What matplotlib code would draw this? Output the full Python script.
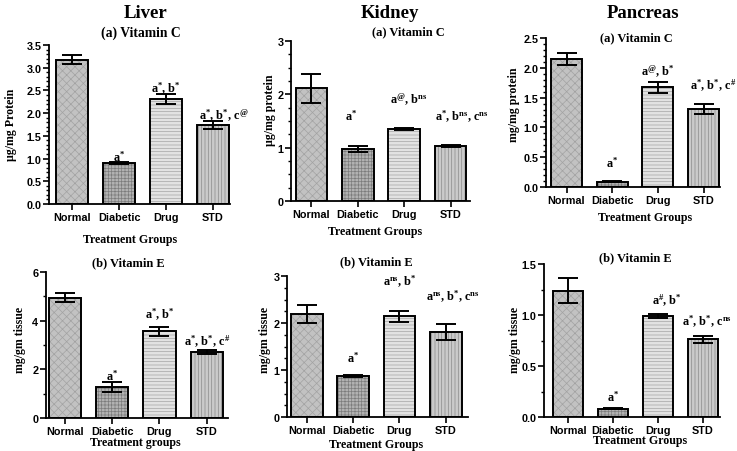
import numpy as np
import matplotlib
matplotlib.use("Agg")
import matplotlib.pyplot as plt

plt.rcParams['mathtext.fontset'] = 'custom'
plt.rcParams['mathtext.rm'] = 'Liberation Serif:bold'
plt.rcParams['mathtext.bf'] = 'Liberation Serif:bold'
plt.rcParams['mathtext.default'] = 'bf'
plt.rcParams['hatch.linewidth'] = 0.5

groups = ["Normal", "Diabetic", "Drug", "STD"]

# vitamin C (row a)
liver_c = [3.18, 0.90, 2.31, 1.74]
liver_c_err = [0.10, 0.02, 0.11, 0.08]
kidney_c = [2.11, 0.98, 1.35, 1.03]
kidney_c_err = [0.27, 0.06, 0.02, 0.02]
pancreas_c = [2.14, 0.09, 1.67, 1.31]
pancreas_c_err = [0.10, 0.01, 0.09, 0.09]

# vitamin E (row b)
liver_e = [4.95, 1.28, 3.57, 2.72]
liver_e_err = [0.18, 0.20, 0.18, 0.08]
kidney_e = [2.20, 0.87, 2.14, 1.80]
kidney_e_err = [0.19, 0.02, 0.12, 0.17]
pancreas_e = [1.24, 0.08, 0.99, 0.76]
pancreas_e_err = [0.12, 0.005, 0.02, 0.03]

# significance labels (Diabetic, Drug, STD)
liver_c_sig = [r"a$^{*}$", r"a$^{*}$, b$^{*}$", r"a$^{*}$, b$^{*}$, c$^{@}$"]
kidney_c_sig = [r"a$^{*}$", r"a$^{@}$, b$^{ns}$", r"a$^{*}$, b$^{ns}$, c$^{ns}$"]
pancreas_c_sig = [r"a$^{*}$", r"a$^{@}$, b$^{*}$", r"a$^{*}$, b$^{*}$, c$^{\#}$"]
liver_e_sig = [r"a$^{*}$", r"a$^{*}$, b$^{*}$", r"a$^{*}$, b$^{*}$, c$^{\#}$"]
kidney_e_sig = [r"a$^{*}$", r"a$^{ns}$, b$^{*}$", r"a$^{ns}$, b$^{*}$, c$^{ns}$"]
pancreas_e_sig = [r"a$^{*}$", r"a$^{\#}$, b$^{*}$", r"a$^{*}$, b$^{*}$, c$^{ns}$"]

W, H = 737, 452
fig = plt.figure(figsize=(W / 100, H / 100), dpi=100)

def fx(x):
    return x / W

def fy(y):
    return 1 - y / H

faces = ["#c2c2c2", "#b2b2b2", "#e2e2e2", "#cacaca"]
hatch_cols = ["#a2a2a2", "#7c7c7c", "#a4a4a4", "#8a8a8a"]
hatches = ["xxxx", "+++++", "-----", "|||||"]

serif = "Liberation Serif"
sans = "Liberation Sans"

panels = [
    # axes px (left, top, right, bottom), xlim, significance label positions (x, y)
    dict(v=liver_c, e=liver_c_err, s=liver_c_sig, ylim=3.5, maj=0.5, mnr=0.1,
         box=(49, 46, 230, 205), xl=(-0.49, 3.36), fmt="%.1f",
         sp=[(1, 1.06), (2, 2.55), (3.22, 1.96)],
         title="Liver", tpos=(146, 13), sub="(a) Vitamin C", spos=(141, 33), subfs=9.8,
         ylab="\u00b5g/mg Protein", ylpos=(11, 125), xlab="Treatment Groups", xlpos=(130, 240)),
    dict(v=kidney_c, e=kidney_c_err, s=kidney_c_sig, ylim=3, maj=1, mnr=0.25,
         box=(291, 42, 470, 202), xl=(-0.44, 3.42), fmt="%d",
         sp=[(0.85, 1.6), (2.1, 1.91), (3.25, 1.6)],
         title="Kidney", tpos=(390, 13), sub="(a) Vitamin C", spos=(408, 32), subfs=9,
         ylab="\u00b5g/mg protein", ylpos=(270, 110), xlab="Treatment Groups", xlpos=(375, 232)),
    dict(v=pancreas_c, e=pancreas_c_err, s=pancreas_c_sig, ylim=2.5, maj=0.5, mnr=0.1,
         box=(546, 39, 720, 188), xl=(-0.45, 3.36), fmt="%.1f",
         sp=[(1, 0.42), (2, 1.95), (3.2, 1.71)],
         title="Pancreas", tpos=(643, 13), sub="(a) Vitamin C", spos=(636, 38), subfs=9,
         ylab="mg/mg protein", ylpos=(514, 105), xlab="Treatment Groups", xlpos=(645, 218)),
    dict(v=liver_e, e=liver_e_err, s=liver_e_sig, ylim=6, maj=2, mnr=1,
         box=(46, 273, 228, 419), xl=(-0.40, 3.45), fmt="%d",
         sp=[(1, 1.77), (2, 4.27), (3, 3.16)],
         title=None, sub="(b) Vitamin E", spos=(128, 263), subfs=9,
         ylab="mg/gm tissue", ylpos=(20, 340), xlab="Treatment groups", xlpos=(135, 443)),
    dict(v=kidney_e, e=kidney_e_err, s=kidney_e_sig, ylim=3, maj=1, mnr=0.25,
         box=(287, 277, 468, 418), xl=(-0.43, 3.48), fmt="%d",
         sp=[(1, 1.28), (2, 2.89), (3.15, 2.57)],
         title=None, sub="(b) Vitamin E", spos=(376, 262), subfs=9,
         ylab="mg/gm tissue", ylpos=(265, 340), xlab="Treatment Groups", xlpos=(376, 445)),
    dict(v=pancreas_e, e=pancreas_e_err, s=pancreas_e_sig, ylim=1.5, maj=0.5, mnr=0.25,
         box=(544, 265, 720, 418), xl=(-0.53, 3.38), fmt="%.1f",
         sp=[(1, 0.2), (2.2, 1.15), (3.1, 0.94)],
         title=None, sub="(b) Vitamin E", spos=(635, 258), subfs=9,
         ylab="mg/gm tissue", ylpos=(515, 340), xlab="Treatment Groups", xlpos=(640, 441)),
]

x = np.arange(len(groups))
for p in panels:
    l, t, r, b = p["box"]
    ax = fig.add_axes([fx(l), fy(b), fx(r - l), (b - t) / H])
    for i in range(len(groups)):
        ax.bar(x[i], p["v"][i], width=0.68, color=faces[i], edgecolor=hatch_cols[i],
               hatch=hatches[i], linewidth=0, zorder=2)
        ax.bar(x[i], p["v"][i], width=0.68, fill=False, edgecolor="black",
               linewidth=1.4, zorder=3)
    ax.errorbar(x, p["v"], yerr=p["e"], fmt="none", ecolor="black", elinewidth=1.4,
                capsize=7, capthick=1.4, zorder=4)
    ax.set_xlim(*p["xl"])
    ax.set_ylim(0, p["ylim"])
    ax.set_yticks(np.arange(0, p["ylim"] + 1e-9, p["maj"]))
    ax.set_yticks(np.arange(0, p["ylim"] + 1e-9, p["mnr"]), minor=True)
    ax.yaxis.set_major_formatter(matplotlib.ticker.FormatStrFormatter(p["fmt"]))
    ax.set_xticks(x)
    ax.set_xticklabels(groups)
    for s in ["top", "right"]:
        ax.spines[s].set_visible(False)
    for s in ["left", "bottom"]:
        ax.spines[s].set_linewidth(1.3)
    ax.tick_params(axis="both", which="major", length=4, width=1.2, pad=1.5)
    ax.tick_params(axis="y", which="minor", length=2.5, width=1.0)
    for lab in ax.get_xticklabels() + ax.get_yticklabels():
        lab.set_fontfamily(sans)
        lab.set_fontweight("bold")
        lab.set_fontsize(7.8)
    for (sx, sy), txt in zip(p["sp"], p["s"]):
        ax.text(sx, sy, txt, ha="center", va="center", fontfamily=serif,
                fontweight="bold", fontsize=8.8, zorder=5)
    if p["title"]:
        fig.text(fx(p["tpos"][0]), fy(p["tpos"][1]), p["title"], ha="center", va="center",
                 fontfamily=serif, fontweight="bold", fontsize=13.5)
    fig.text(fx(p["spos"][0]), fy(p["spos"][1]), p["sub"], ha="center", va="center",
             fontfamily=serif, fontweight="bold", fontsize=p["subfs"])
    fig.text(fx(p["ylpos"][0]), fy(p["ylpos"][1]), p["ylab"], ha="center", va="center",
             rotation=90, fontfamily=serif, fontweight="bold", fontsize=8.6)
    fig.text(fx(p["xlpos"][0]), fy(p["xlpos"][1]), p["xlab"], ha="center", va="center",
             fontfamily=serif, fontweight="bold", fontsize=8.6)

fig.savefig("out.png", dpi=100)
